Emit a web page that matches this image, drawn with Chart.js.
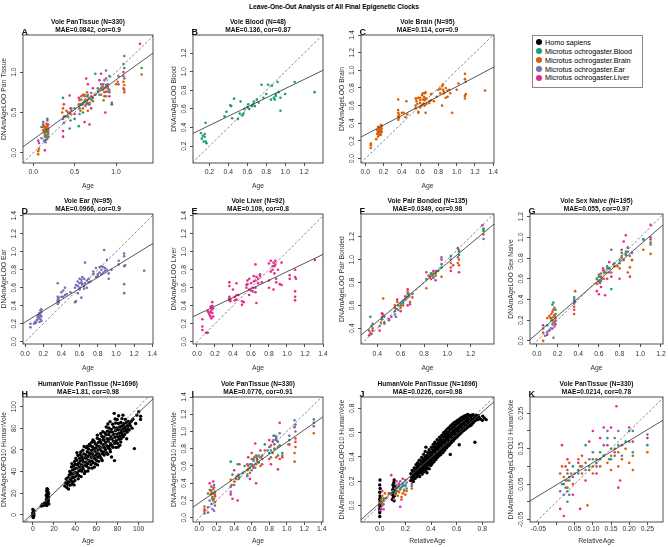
<!DOCTYPE html>
<html>
<head>
<meta charset="utf-8">
<title>Leave-One-Out Analysis of All Final Epigenetic Clocks</title>
<script src="https://cdn.jsdelivr.net/npm/chart.js@4.4.1/dist/chart.umd.min.js"></script>
<style>
  html, body { margin: 0; padding: 0; background: #fff; }
  body { width: 668px; height: 547px; position: relative; overflow: hidden; font-family: "Liberation Sans", Arial, sans-serif; }
  canvas { position: absolute; }
  #mainTitle { position: absolute; left: 0; width: 668px; top: 1.5px; text-align: center; font-weight: bold; font-size: 6.6px; line-height: 9px; color: #000; opacity: 0.999; }
  #legend { position: absolute; left: 532px; top: 35px; width: 111px; height: 53px; border: 1px solid #888; box-sizing: border-box; opacity: 0.999; }
  .lg { position: absolute; left: 0; font-size: 7.2px; line-height: 9px; white-space: nowrap; color: #000; }
  .lg i { position: absolute; left: 2.5px; top: 1.3px; width: 6.4px; height: 6.4px; border-radius: 50%; }
  .lg span { position: absolute; left: 12px; color: #000; }
</style>
</head>
<body>
<div id="mainTitle">Leave-One-Out Analysis of All Final Epigenetic Clocks</div>
<div id="legend"></div>
<script>
// colours of the five groups
const colHuman = '#000000', colBlood = '#1B9E77', colBrain = '#D95F02', colEar = '#7570B3', colLiver = '#E7298A';
const legendLabels = ['Homo sapiens', 'Microtus ochrogaster.Blood', 'Microtus ochrogaster.Brain', 'Microtus ochrogaster.Ear', 'Microtus ochrogaster.Liver'];
const legendColors = [colHuman, colBlood, colBrain, colEar, colLiver];

// tick values
const ticksA = [0, 0.5, 1.0];
const ticksB = [0.2, 0.4, 0.6, 0.8, 1.0, 1.2];
const ticks14 = [0, 0.2, 0.4, 0.6, 0.8, 1.0, 1.2, 1.4];
const ticksF = [0.4, 0.6, 0.8, 1.0, 1.2];
const ticksG = [0, 0.2, 0.4, 0.6, 0.8, 1.0, 1.2];
const ticksH = [0, 20, 40, 60, 80, 100];
const ticksJ = [0, 0.2, 0.4, 0.6, 0.8];
const ticksK = [-0.05, 0, 0.05, 0.10, 0.15, 0.20, 0.25];
const labelsKx = ['-0.05', '', '0.05', '0.10', '0.15', '0.20', '0.25'];
const labelsKy = ['-0.05', '', '0.05', '', '0.15', '', '0.25'];

// regression lines [intercept, slope]
const fitA = [0.166, 0.739], fitB = [0.323, 0.495], fitC = [0.27, 0.545], fitD = [0.218, 0.622];
const fitE = [0.299, 0.48], fitF = [0.12, 0.85], fitG = [0.07, 0.86], fitH = [1.5, 0.93];
const fitI = [0.172, 0.705], fitJ = [0.0205, 0.935], fitK = [0.048, 0.623];

// A: Vole PanTissue LOO
const aBlood = [[0.1,0.32],[0.12,0.38],[0.14,0.2],[0.15,0.16],[0.16,0.28],[0.17,0.4],[0.18,0.25],[0.36,0.68],[0.38,0.45],[0.44,0.3],[0.46,0.52],[0.5,0.42],[0.55,0.33],[0.56,0.55],[0.58,0.6],[0.6,0.5],[0.62,0.64],[0.65,0.7],[0.67,0.6],[0.7,0.66],[0.75,0.98],[0.78,0.76],[0.82,0.8],[0.86,0.7],[0.88,0.84],[0.9,0.76],[0.92,0.95],[0.95,0.6],[1.1,1.05],[1.31,1.05]];
const aBrain = [[0.06,-0.02],[0.06,0.02],[0.07,0.05],[0.12,0.28],[0.12,0.32],[0.13,0.25],[0.13,0.33],[0.14,0.3],[0.15,0.27],[0.15,0.32],[0.16,0.3],[0.16,0.22],[0.17,0.33],[0.17,0.26],[0.18,0.3],[0.18,0.2],[0.35,0.5],[0.36,0.55],[0.37,0.45],[0.4,0.52],[0.42,0.45],[0.45,0.48],[0.46,0.55],[0.55,0.58],[0.56,0.65],[0.57,0.52],[0.58,0.7],[0.6,0.62],[0.6,0.55],[0.62,0.72],[0.63,0.66],[0.64,0.6],[0.65,0.75],[0.66,0.52],[0.67,0.68],[0.68,0.62],[0.7,0.7],[0.72,0.64],[0.75,0.72],[0.8,0.78],[0.82,0.72],[0.84,0.82],[0.85,0.65],[0.86,0.8],[0.88,0.76],[0.88,0.7],[0.9,0.82],[0.92,0.75],[0.95,0.6],[1.0,0.85],[1.02,0.88],[1.09,0.95],[1.09,0.88],[1.09,0.8],[1.1,0.75],[1.1,0.84],[1.31,0.97]];
const aEar = [[0.07,0.12],[0.1,0.18],[0.13,0.15],[0.14,0.22],[0.15,0.13],[0.15,0.25],[0.16,0.2],[0.17,0.28],[0.17,0.17],[0.18,0.23],[0.36,0.42],[0.37,0.37],[0.4,0.45],[0.43,0.5],[0.45,0.4],[0.5,0.55],[0.55,0.6],[0.56,0.48],[0.58,0.66],[0.6,0.6],[0.62,0.7],[0.63,0.58],[0.65,0.65],[0.66,0.72],[0.68,0.6],[0.7,0.74],[0.72,0.68],[0.78,0.8],[0.8,0.72],[0.82,0.85],[0.84,0.78],[0.86,0.9],[0.88,1.02],[0.88,0.82],[0.9,0.85],[0.92,0.78],[1.03,0.95],[1.09,1.1],[1.1,1.2],[1.1,0.92]];
const aLiver = [[0.06,0.15],[0.12,0.35],[0.14,0.03],[0.15,0.3],[0.16,0.36],[0.17,0.42],[0.18,0.35],[0.18,0.28],[0.36,0.2],[0.36,0.27],[0.37,0.6],[0.42,0.5],[0.44,0.71],[0.45,0.55],[0.5,0.48],[0.55,0.68],[0.57,0.6],[0.6,0.72],[0.62,0.38],[0.64,0.92],[0.65,0.62],[0.66,0.85],[0.68,0.35],[0.7,0.55],[0.72,0.8],[0.8,0.9],[0.82,0.98],[0.84,0.85],[0.86,0.75],[0.87,0.5],[0.88,0.92],[0.9,0.8],[0.92,0.7],[0.95,0.62],[1.03,0.85],[1.09,1.0],[1.1,0.78],[1.29,1.35]];

// B: Vole Blood
const bBlood = [[0.11,0.34],[0.12,0.28],[0.13,0.31],[0.14,0.25],[0.15,0.33],[0.15,0.3],[0.16,0.45],[0.16,0.25],[0.17,0.23],[0.36,0.52],[0.38,0.57],[0.42,0.64],[0.43,0.63],[0.44,0.5],[0.46,0.71],[0.5,0.49],[0.52,0.55],[0.53,0.68],[0.55,0.53],[0.56,0.55],[0.57,0.6],[0.6,0.62],[0.61,0.65],[0.62,0.6],[0.65,0.63],[0.66,0.65],[0.67,0.68],[0.68,0.63],[0.7,0.7],[0.72,0.67],[0.75,0.86],[0.77,0.72],[0.8,0.76],[0.82,0.86],[0.85,0.7],[0.86,0.85],[0.88,0.72],[0.89,0.7],[0.9,0.76],[0.9,0.74],[0.92,0.89],[0.93,0.78],[0.95,0.72],[0.95,0.58],[1.0,0.76],[1.1,0.89],[1.31,0.78]];

// C: Vole Brain
const cBrain = [[0.06,0.12],[0.06,0.15],[0.06,0.17],[0.12,0.22],[0.13,0.32],[0.13,0.28],[0.14,0.25],[0.14,0.3],[0.14,0.36],[0.15,0.27],[0.15,0.3],[0.15,0.33],[0.16,0.29],[0.16,0.31],[0.16,0.35],[0.17,0.27],[0.17,0.32],[0.17,0.38],[0.18,0.3],[0.18,0.34],[0.18,0.37],[0.36,0.67],[0.36,0.52],[0.36,0.48],[0.36,0.55],[0.36,0.44],[0.37,0.5],[0.37,0.46],[0.4,0.52],[0.42,0.52],[0.44,0.47],[0.45,0.65],[0.46,0.5],[0.55,0.57],[0.55,0.6],[0.55,0.68],[0.56,0.65],[0.56,0.68],[0.57,0.62],[0.58,0.69],[0.58,0.53],[0.58,0.52],[0.6,0.69],[0.6,0.66],[0.6,0.63],[0.6,0.58],[0.62,0.72],[0.62,0.6],[0.63,0.74],[0.63,0.67],[0.64,0.7],[0.64,0.62],[0.65,0.66],[0.65,0.74],[0.65,0.69],[0.65,0.6],[0.66,0.52],[0.66,0.75],[0.67,0.68],[0.67,0.62],[0.7,0.65],[0.7,0.63],[0.72,0.73],[0.72,0.66],[0.75,0.65],[0.78,0.7],[0.8,0.78],[0.82,0.79],[0.82,0.74],[0.84,0.82],[0.84,0.6],[0.85,0.78],[0.85,0.84],[0.86,0.76],[0.86,0.74],[0.88,0.8],[0.88,0.69],[0.9,0.77],[0.9,0.7],[0.92,0.78],[0.93,0.74],[0.95,0.52],[1.0,0.78],[1.02,0.85],[1.09,0.96],[1.09,0.9],[1.09,0.71],[1.09,0.68],[1.1,0.87],[1.1,0.73],[1.31,0.77]];

// D: Vole Ear
const dEar = [[0.06,0.2],[0.06,0.16],[0.1,0.2],[0.11,0.22],[0.12,0.21],[0.13,0.24],[0.14,0.27],[0.15,0.3],[0.15,0.26],[0.16,0.32],[0.16,0.28],[0.17,0.35],[0.17,0.3],[0.17,0.25],[0.18,0.33],[0.18,0.28],[0.18,0.23],[0.16,0.22],[0.14,0.29],[0.18,0.36],[0.36,0.65],[0.36,0.5],[0.36,0.47],[0.36,0.45],[0.36,0.42],[0.37,0.44],[0.37,0.46],[0.37,0.49],[0.4,0.55],[0.4,0.5],[0.42,0.57],[0.42,0.5],[0.44,0.6],[0.44,0.52],[0.46,0.53],[0.5,0.55],[0.55,0.44],[0.55,0.6],[0.56,0.45],[0.56,0.63],[0.58,0.67],[0.58,0.62],[0.58,0.54],[0.6,0.7],[0.6,0.65],[0.6,0.6],[0.6,0.58],[0.62,0.69],[0.62,0.66],[0.62,0.49],[0.63,0.72],[0.63,0.64],[0.65,0.7],[0.65,0.62],[0.65,0.59],[0.66,0.88],[0.66,0.65],[0.68,0.68],[0.68,0.6],[0.7,0.66],[0.7,0.7],[0.72,0.67],[0.75,0.75],[0.75,0.78],[0.78,0.82],[0.78,0.72],[0.8,0.73],[0.8,0.75],[0.82,0.83],[0.82,0.77],[0.84,0.84],[0.84,0.75],[0.84,0.8],[0.86,0.77],[0.86,0.83],[0.87,1.02],[0.88,0.82],[0.88,0.79],[0.9,0.91],[0.9,0.8],[0.92,0.7],[0.92,0.76],[0.95,0.8],[1.03,0.9],[1.03,0.86],[1.09,0.98],[1.09,0.95],[1.09,0.84],[1.09,0.64],[1.09,0.54],[1.1,0.85],[1.31,0.79]];

// E: Vole Liver
const eLiver = [[0.06,0.25],[0.06,0.17],[0.06,0.13],[0.1,0.1],[0.12,0.34],[0.13,0.32],[0.14,0.3],[0.15,0.33],[0.15,0.28],[0.16,0.38],[0.16,0.26],[0.17,0.44],[0.17,0.4],[0.17,0.32],[0.18,0.37],[0.18,0.28],[0.16,0.35],[0.15,0.39],[0.12,0.1],[0.36,0.66],[0.36,0.62],[0.36,0.5],[0.36,0.48],[0.36,0.46],[0.37,0.47],[0.37,0.45],[0.4,0.58],[0.42,0.5],[0.42,0.46],[0.44,0.65],[0.44,0.47],[0.44,0.52],[0.46,0.52],[0.5,0.41],[0.5,0.45],[0.52,0.44],[0.55,0.63],[0.55,0.6],[0.56,0.68],[0.56,0.64],[0.58,0.7],[0.58,0.58],[0.58,0.52],[0.6,0.65],[0.6,0.57],[0.62,0.6],[0.62,0.56],[0.63,0.73],[0.63,0.67],[0.65,0.86],[0.65,0.6],[0.65,0.55],[0.65,0.68],[0.66,0.72],[0.66,0.43],[0.68,0.65],[0.68,0.7],[0.7,0.75],[0.7,0.73],[0.72,0.66],[0.8,0.87],[0.8,0.68],[0.8,0.6],[0.82,0.9],[0.82,0.78],[0.84,0.84],[0.84,0.8],[0.85,0.58],[0.85,0.88],[0.86,0.84],[0.86,0.76],[0.87,0.9],[0.87,0.86],[0.88,0.7],[0.88,0.66],[0.9,0.8],[0.92,0.64],[0.94,0.88],[0.94,0.63],[1.03,0.74],[1.03,0.7],[1.09,0.8],[1.09,0.72],[1.09,0.56],[1.09,0.5],[1.09,0.46],[1.1,0.7],[1.31,0.91]];

// F: Vole Pair Bonded
const fBlood = [[0.34,0.5],[0.35,0.42],[0.44,0.48],[0.46,0.45],[0.55,0.55],[0.58,0.6],[0.6,0.62],[0.62,0.64],[0.66,0.7],[0.67,0.68],[0.86,0.88],[0.88,0.85],[0.9,0.88],[0.92,0.9],[0.95,0.93],[1.03,1.03],[1.1,1.07],[1.1,1.04],[1.31,1.27],[1.31,1.25]];
const fBrain = [[0.34,0.36],[0.36,0.4],[0.43,0.45],[0.44,0.5],[0.45,0.66],[0.46,0.44],[0.55,0.6],[0.56,0.57],[0.57,0.63],[0.6,0.58],[0.62,0.6],[0.64,0.66],[0.66,0.72],[0.67,0.7],[0.68,0.63],[0.7,0.67],[0.82,0.75],[0.84,0.86],[0.86,0.83],[0.88,0.88],[0.9,0.86],[0.92,0.9],[0.95,0.85],[1.03,0.97],[1.03,0.93],[1.09,0.97],[1.1,0.95],[1.1,1.0],[1.31,1.22],[1.31,1.26]];
const fEar = [[0.33,0.38],[0.35,0.35],[0.36,0.44],[0.42,0.42],[0.44,0.48],[0.46,0.5],[0.5,0.48],[0.55,0.52],[0.56,0.5],[0.58,0.56],[0.6,0.6],[0.62,0.62],[0.64,0.65],[0.66,0.67],[0.7,0.7],[0.82,0.83],[0.86,0.87],[0.88,0.84],[0.9,0.9],[0.95,1.02],[0.95,0.96],[1.03,1.0],[1.09,1.02],[1.1,1.08],[1.31,1.18]];
const fLiver = [[0.33,0.34],[0.36,0.38],[0.42,0.38],[0.44,0.53],[0.45,0.52],[0.5,0.47],[0.52,0.5],[0.55,0.58],[0.57,0.65],[0.6,0.55],[0.62,0.62],[0.64,0.68],[0.66,0.74],[0.66,0.6],[0.68,0.61],[0.82,0.89],[0.85,0.85],[0.88,0.9],[0.9,0.82],[0.95,1.0],[1.03,0.9],[1.05,0.95],[1.09,1.1],[1.1,0.89],[1.3,1.3]];

// G: Vole Sex Naive
const gBlood = [[0.1,0.15],[0.14,0.2],[0.15,0.35],[0.16,0.37],[0.17,0.25],[0.18,0.3],[0.36,0.38],[0.36,0.42],[0.58,0.6],[0.6,0.62],[0.62,0.58],[0.65,0.66],[0.68,0.72],[0.7,0.7],[0.72,0.5],[0.75,0.75],[0.8,0.78],[0.82,0.85],[0.86,0.83],[0.88,0.86],[1.03,0.98],[1.1,0.95]];
const gBrain = [[0.06,0.0],[0.06,0.08],[0.1,0.22],[0.12,0.24],[0.13,0.22],[0.14,0.26],[0.15,0.2],[0.15,0.28],[0.16,0.23],[0.17,0.32],[0.17,0.18],[0.18,0.26],[0.18,0.22],[0.36,0.26],[0.36,0.33],[0.37,0.48],[0.58,0.55],[0.6,0.64],[0.61,0.58],[0.62,0.62],[0.64,0.68],[0.65,0.6],[0.67,0.66],[0.7,0.7],[0.72,0.66],[0.75,0.72],[0.78,0.72],[0.8,0.7],[0.82,0.82],[0.84,0.78],[0.86,0.84],[0.88,0.66],[0.9,0.71],[0.92,0.78],[1.03,0.88],[1.1,0.84],[1.1,0.93]];
const gEar = [[0.06,0.12],[0.08,0.05],[0.1,0.08],[0.12,0.1],[0.14,0.12],[0.15,0.16],[0.16,0.18],[0.17,0.14],[0.18,0.2],[0.16,0.03],[0.36,0.36],[0.36,0.4],[0.58,0.6],[0.6,0.57],[0.62,0.65],[0.63,0.6],[0.65,0.68],[0.68,0.7],[0.7,0.66],[0.72,0.88],[0.74,0.74],[0.8,0.75],[0.82,0.8],[0.86,0.86],[0.88,0.9],[0.9,0.82],[0.92,0.85],[1.03,0.98],[1.1,1.0]];
const gLiver = [[0.06,0.15],[0.1,0.06],[0.12,0.1],[0.14,0.22],[0.15,0.12],[0.16,0.3],[0.17,0.24],[0.18,0.16],[0.36,0.3],[0.37,0.38],[0.58,0.48],[0.6,0.45],[0.61,0.56],[0.62,0.52],[0.64,0.7],[0.66,0.44],[0.68,0.6],[0.7,0.76],[0.72,0.62],[0.8,0.6],[0.82,0.88],[0.84,0.96],[0.86,1.02],[0.88,0.9],[0.9,0.62],[0.92,0.78],[1.1,1.12],[1.1,0.98]];

// H: HumanVole PanTissue, age in years
const hHuman = [[0,-1.5],[0,0.5],[0,2],[0.5,-0.5],[1,1],[1,3.5],[0,5],[0.5,-2.5],[1,-1],[8,8],[9,9.5],[10,8.5],[11,11],
[12.5,10.5],[12.8,14],[13,8.5],[13,12],[13.2,16.5],[13.3,19],[13.1,22],[13.6,9.8],[13.7,13.5],[13.8,15.8],[13.9,18],[14,20.5],[14,23.5],[14.1,11.2],[14.3,14.6],[14.4,17.2],[14.2,21.4],[14.6,12.8],[14.8,16],[15,19.5],[15.1,10],[12.7,17.8],[13.4,24],
[30.2,26.5],[30.8,29.4],[31.5,33.1],[32.1,25.2],[32.6,30.8],[33.0,28.1],[33.4,34.6],[33.7,23.8],[34.1,30.2],[34.5,36.9],[34.9,40.1],[35.2,27.4],[35.6,32.8],[35.8,38.7],[36.3,31.1],[36.5,44.2],[36.8,36.4],[37.1,28.3],[37.4,34.2],[37.6,41.3],[38.0,30.4],[38.3,37.9],[38.6,45.1],[38.9,34.6],[39.2,42.2],[39.5,49.3],[39.8,31.7],[40.1,39.2],[40.3,46.8],[40.6,52.1],[40.9,35.8],[41.2,43.1],[41.5,50.4],[41.7,57.3],[42.0,38.2],[42.3,46.3],[42.6,54.8],[42.9,33.2],[43.2,40.5],[43.5,47.9],[43.8,36.1],[44.0,44.3],[44.3,52.2],[44.7,41.8],[45.0,49.6],[45.3,58.1],[45.6,35.3],[45.9,46.2],[46.2,40.3],[46.4,53.7],[46.8,44.1],[47.1,51.2],[47.3,59.6],[47.7,42.4],[48.0,48.8],[48.2,56.3],[48.5,63.1],[48.8,38.2],[49.1,45.7],[49.4,52.8],[49.7,40.1],[50.0,48.3],[50.2,55.4],[50.5,61.9],[50.8,44.9],[51.1,51.6],[51.4,58.2],[51.8,47.2],[52.0,40.4],[52.3,54.1],[52.6,60.8],[52.9,43.3],[53.2,50.2],[53.4,57.1],[53.7,65.2],[54.0,48.9],[54.3,55.8],[54.6,63.7],[54.9,46.3],[55.2,52.9],[55.4,59.7],[55.7,67.1],[56.0,49.8],[56.3,56.6],[56.5,62.9],[56.8,69.2],[57.1,48.1],[57.4,54.7],[57.6,61.3],[57.9,67.8],[58.2,44.2],[58.4,52.3],[58.7,58.9],[59.0,65.6],[59.3,47.2],[59.5,55.1],[59.8,61.7],[60.1,50.3],[60.3,57.2],[60.6,64.1],[60.9,70.8],[61.2,46.1],[61.4,53.2],[61.7,59.8],[62.0,66.9],[62.3,49.4],[62.5,56.3],[62.8,63.1],[63.1,69.7],[63.4,54.2],[63.6,60.8],[63.9,67.6],[64.2,75.1],[64.5,52.1],[64.7,58.9],[65.0,65.8],[65.3,72.6],[65.6,50.2],[65.8,56.4],[66.1,62.7],[66.4,69.3],[66.7,58.1],[66.9,64.9],[67.2,71.8],[67.5,55.3],[67.8,61.9],[68.0,68.6],[68.3,75.7],[68.6,60.1],[68.9,66.8],[69.1,73.9],[69.4,81.2],[69.7,57.4],[70.0,63.8],[70.2,70.4],[70.5,77.3],[70.8,55.9],[71.1,61.7],[71.3,67.9],[71.6,74.2],[71.9,80.3],[72.2,63.2],[72.4,69.8],[72.7,76.6],[73.0,86.1],[73.3,58.3],[73.5,65.7],[73.8,72.1],[74.1,79.0],[74.4,53.4],[74.6,64.3],[74.9,70.2],[75.2,76.4],[75.5,83.7],[75.8,62.4],[76.0,68.1],[76.3,74.3],[76.6,80.9],[76.9,93.8],[77.2,50.1],[77.4,66.0],[77.7,71.7],[78.0,77.8],[78.3,84.9],[78.6,62.3],[78.8,68.4],[79.1,74.6],[79.4,80.2],[79.7,88.1],[80.0,66.1],[80.3,72.2],[80.6,78.5],[80.9,84.4],[81.1,91.6],[81.4,69.8],[81.7,75.3],[82.0,81.1],[82.3,64.2],[82.6,72.6],[82.9,78.4],[83.2,85.3],[83.5,70.4],[83.8,76.1],[84.0,82.2],[84.3,88.9],[84.6,73.7],[84.9,79.8],[85.2,92.1],[85.5,72.1],[85.8,84.2],[86.1,77.3],[86.4,81.9],[86.8,74.2],[87.1,80.4],[87.5,88.2],[87.9,78.1],[88.3,85.1],[88.7,70.3],[89.1,76.4],[89.5,82.3],[90.0,79.6],[90.4,86.2],[91.0,78.3],[91.5,84.1],[92.2,82.2],[93.0,86.4],[93.8,80.1],[94.6,88.3],[96.0,61.2],[97.2,84.4],[98.3,92.1],[100.1,95.3],[101.8,88.2],[101.9,91.1],
[36.9,47.3],[39.0,27.6],[44.8,55.6],[51.6,63.4],[55.9,43.1],[61.0,73.6],[66.2,76.8],[70.9,83.9],[72.9,60.4],[77.8,88.6],[80.7,62.7],[83.1,67.3]];

// I: Vole PanTissue, HumanVole clock
const iBlood = [[0.1,0.28],[0.13,0.32],[0.15,0.22],[0.17,0.38],[0.18,0.3],[0.36,0.65],[0.38,0.5],[0.44,0.62],[0.46,0.47],[0.52,0.6],[0.55,0.5],[0.58,0.58],[0.6,0.62],[0.62,0.68],[0.65,0.72],[0.68,0.64],[0.7,0.7],[0.75,0.85],[0.8,0.75],[0.82,0.78],[0.85,0.95],[0.86,0.8],[0.88,0.9],[0.9,0.72],[0.92,0.84],[0.95,0.75],[1.03,0.9],[1.1,1.08],[1.31,1.1]];
const iBrain = [[0.06,0.1],[0.06,0.13],[0.12,0.32],[0.13,0.27],[0.14,0.3],[0.15,0.24],[0.16,0.28],[0.16,0.33],[0.17,0.22],[0.18,0.27],[0.18,0.18],[0.36,0.44],[0.37,0.38],[0.4,0.42],[0.42,0.45],[0.45,0.5],[0.55,0.55],[0.56,0.6],[0.58,0.52],[0.6,0.68],[0.62,0.6],[0.63,0.7],[0.65,0.62],[0.66,0.66],[0.68,0.72],[0.7,0.6],[0.72,0.68],[0.75,0.78],[0.8,0.68],[0.82,0.84],[0.84,0.75],[0.86,0.8],[0.88,0.7],[0.9,0.82],[0.92,0.68],[0.95,0.72],[1.02,0.85],[1.09,0.75],[1.09,0.65],[1.1,0.82],[1.1,0.92],[1.31,0.98]];
const iEar = [[0.06,0.05],[0.1,0.12],[0.12,0.2],[0.14,0.16],[0.15,0.1],[0.16,0.2],[0.17,0.08],[0.18,0.14],[0.36,0.3],[0.36,0.36],[0.4,0.38],[0.43,0.48],[0.45,0.45],[0.5,0.52],[0.55,0.48],[0.56,0.56],[0.58,0.62],[0.6,0.55],[0.62,0.66],[0.64,0.58],[0.66,0.7],[0.68,0.64],[0.72,0.72],[0.78,0.78],[0.8,0.82],[0.82,0.7],[0.85,0.9],[0.86,0.85],[0.88,0.94],[0.9,0.88],[0.92,0.98],[1.03,0.95],[1.09,1.13],[1.1,1.0],[1.31,1.14]];
const iLiver = [[0.06,0.08],[0.1,0.06],[0.12,0.4],[0.14,0.36],[0.15,0.28],[0.16,0.42],[0.17,0.35],[0.18,0.25],[0.36,0.27],[0.38,0.22],[0.4,0.55],[0.44,0.2],[0.46,0.62],[0.55,0.62],[0.56,0.7],[0.58,0.45],[0.6,0.75],[0.62,0.58],[0.64,0.86],[0.65,0.4],[0.66,0.68],[0.7,0.78],[0.72,0.62],[0.8,0.9],[0.82,0.62],[0.84,0.88],[0.86,0.95],[0.88,0.92],[0.9,0.56],[0.92,1.1],[0.95,0.7],[1.03,0.85],[1.09,1.05],[1.1,0.88],[1.31,1.06]];

// J: HumanVole PanTissue, relative age
const jHuman = [[0,-0.09],[0,-0.06],[0,-0.03],[0.002,-0.01],[0,0.01],[0.003,0.03],[0,0.05],[0.002,0.08],[0,0.11],[0.003,0.14],[0,0.17],[0.002,0.21],[0.004,0.0],[0.001,-0.045],[0.004,0.06],
[0.098,0.05],[0.1,0.09],[0.101,0.13],[0.103,0.17],[0.106,0.07],[0.108,0.11],[0.109,0.15],[0.11,0.19],[0.112,0.04],[0.113,0.21],[0.115,0.08],[0.117,0.12],[0.118,0.16],[0.12,0.1],[0.122,0.14],
[0.241,0.205],[0.243,0.262],[0.248,0.231],[0.253,0.289],[0.255,0.214],[0.259,0.248],[0.262,0.198],[0.264,0.276],[0.267,0.239],[0.269,0.31],[0.272,0.265],[0.276,0.222],[0.278,0.297],[0.281,0.258],[0.283,0.335],[0.285,0.281],[0.289,0.236],[0.29,0.312],[0.293,0.27],[0.295,0.351],[0.298,0.295],[0.3,0.249],[0.302,0.327],[0.305,0.268],[0.307,0.303],[0.308,0.372],[0.311,0.239],[0.313,0.288],[0.316,0.341],[0.318,0.31],[0.321,0.274],[0.322,0.366],[0.325,0.302],[0.327,0.395],[0.33,0.258],[0.331,0.329],[0.334,0.355],[0.336,0.287],[0.339,0.314],[0.34,0.381],[0.342,0.421],[0.343,0.276],[0.345,0.342],[0.348,0.302],[0.35,0.366],[0.352,0.328],[0.353,0.399],[0.355,0.445],[0.357,0.289],[0.359,0.355],[0.361,0.381],[0.363,0.318],[0.366,0.344],[0.367,0.412],[0.368,0.27],[0.37,0.305],[0.372,0.371],[0.375,0.398],[0.376,0.434],[0.379,0.331],[0.381,0.36],[0.384,0.388],[0.385,0.459],[0.386,0.302],[0.388,0.344],[0.39,0.418],[0.393,0.375],[0.395,0.44],[0.397,0.407],[0.399,0.33],[0.402,0.362],[0.403,0.479],[0.405,0.431],[0.406,0.393],[0.409,0.345],[0.411,0.421],[0.413,0.46],[0.415,0.378],[0.417,0.502],[0.42,0.408],[0.421,0.445],[0.423,0.36],[0.424,0.438],[0.426,0.482],[0.429,0.395],[0.43,0.52],[0.433,0.425],[0.435,0.466],[0.438,0.378],[0.439,0.45],[0.44,0.503],[0.442,0.412],[0.444,0.485],[0.447,0.438],[0.448,0.541],[0.45,0.395],[0.451,0.467],[0.453,0.51],[0.456,0.425],[0.458,0.492],[0.46,0.452],[0.461,0.53],[0.463,0.409],[0.465,0.478],[0.467,0.561],[0.469,0.44],[0.47,0.506],[0.474,0.466],[0.475,0.545],[0.476,0.42],[0.478,0.493],[0.48,0.52],[0.483,0.452],[0.485,0.578],[0.487,0.48],[0.488,0.535],[0.492,0.507],[0.493,0.436],[0.494,0.562],[0.496,0.468],[0.498,0.598],[0.501,0.495],[0.503,0.54],[0.505,0.522],[0.506,0.455],[0.508,0.578],[0.51,0.483],[0.512,0.612],[0.514,0.51],[0.516,0.558],[0.519,0.537],[0.52,0.472],[0.521,0.592],[0.523,0.498],[0.525,0.628],[0.528,0.525],[0.53,0.57],[0.532,0.552],[0.533,0.488],[0.535,0.605],[0.537,0.513],[0.539,0.64],[0.541,0.54],[0.543,0.582],[0.546,0.567],[0.547,0.502],[0.548,0.62],[0.55,0.528],[0.552,0.655],[0.555,0.555],[0.557,0.596],[0.559,0.582],[0.56,0.519],[0.562,0.634],[0.564,0.543],[0.566,0.668],[0.568,0.57],[0.57,0.608],[0.573,0.597],[0.574,0.533],[0.575,0.646],[0.577,0.557],[0.579,0.681],[0.582,0.585],[0.584,0.621],[0.586,0.61],[0.587,0.548],[0.589,0.66],[0.591,0.572],[0.593,0.69],[0.595,0.6],[0.597,0.634],[0.6,0.624],[0.601,0.562],[0.602,0.672],[0.604,0.587],[0.606,0.7],[0.609,0.614],[0.611,0.646],[0.613,0.636],[0.614,0.578],[0.616,0.683],[0.618,0.601],[0.62,0.71],[0.622,0.627],[0.624,0.658],[0.627,0.65],[0.628,0.59],[0.63,0.695],[0.631,0.615],[0.633,0.72],[0.636,0.64],[0.638,0.669],[0.64,0.661],[0.641,0.604],[0.643,0.705],[0.645,0.628],[0.647,0.728],[0.65,0.652],[0.652,0.68],[0.654,0.672],[0.655,0.617],[0.657,0.714],[0.659,0.64],[0.661,0.736],[0.663,0.663],[0.665,0.69],[0.668,0.682],[0.669,0.628],[0.67,0.722],[0.672,0.651],[0.674,0.742],[0.677,0.673],[0.679,0.699],[0.681,0.69],[0.682,0.64],[0.684,0.73],[0.686,0.662],[0.688,0.748],[0.69,0.682],[0.692,0.708],[0.695,0.7],[0.697,0.652],[0.7,0.672],[0.702,0.738],[0.706,0.69],[0.709,0.716],[0.712,0.66],[0.714,0.742],[0.718,0.7],[0.721,0.724],[0.725,0.676],[0.728,0.746],[0.732,0.71],[0.735,0.688],[0.74,0.728],[0.742,0.52],[0.748,0.7],[0.751,0.742],[0.756,0.722],[0.764,0.706],[0.767,0.738],[0.775,0.724],[0.786,0.71],[0.8,0.7],[0.803,0.735],[0.815,0.72],[0.83,0.706],[0.36,0.48],[0.55,0.42],[0.62,0.5]];
const jBlood = [[0.01,0.03],[0.03,0.06],[0.1,0.12],[0.12,0.1],[0.14,0.15],[0.16,0.14],[0.18,0.16],[0.2,0.17],[0.21,0.14],[0.25,0.16]];
const jBrain = [[0.0,0.02],[0.01,0.05],[0.02,0.0],[0.02,0.08],[0.03,0.04],[0.04,0.1],[0.05,0.06],[0.07,0.1],[0.12,0.09],[0.13,0.12],[0.14,0.08],[0.15,0.11],[0.16,0.13],[0.17,0.07],[0.18,0.1],[0.19,0.12],[0.2,0.09],[0.21,0.12],[0.25,0.14]];
const jEar = [[0.01,-0.02],[0.02,0.02],[0.03,0.01],[0.09,0.1],[0.12,0.14],[0.13,0.17],[0.14,0.12],[0.15,0.16],[0.16,0.2],[0.17,0.15],[0.18,0.18],[0.19,0.13],[0.2,0.16],[0.21,0.19]];
const jLiver = [[0.0,-0.04],[0.02,0.12],[0.03,-0.03],[0.08,0.1],[0.09,0.25],[0.11,0.05],[0.13,0.2],[0.15,0.18],[0.16,-0.01],[0.17,0.05],[0.18,0.22],[0.2,0.21],[0.25,0.18]];

// K: Vole PanTissue, relative age
const kBlood = [[0.02,0.05],[0.03,0.03],[0.03,0.08],[0.035,0.06],[0.045,0.1],[0.06,0.09],[0.08,0.16],[0.09,0.1],[0.1,0.12],[0.11,0.11],[0.12,0.14],[0.13,0.13],[0.14,0.18],[0.145,0.12],[0.15,0.15],[0.16,0.13],[0.17,0.16],[0.19,0.17],[0.2,0.2],[0.21,0.14],[0.25,0.16]];
const kBrain = [[0.01,0.08],[0.015,0.1],[0.02,0.07],[0.025,0.06],[0.03,0.09],[0.03,0.04],[0.035,0.07],[0.035,0.11],[0.045,0.05],[0.05,0.08],[0.06,0.12],[0.065,0.1],[0.07,0.08],[0.08,0.11],[0.085,-0.01],[0.09,0.09],[0.1,0.1],[0.1,0.08],[0.11,0.12],[0.12,0.1],[0.13,0.13],[0.14,0.11],[0.15,0.13],[0.15,0.09],[0.16,0.15],[0.17,0.1],[0.17,0.14],[0.18,0.12],[0.19,0.15],[0.2,0.11],[0.21,0.13],[0.21,0.09],[0.25,0.14]];
const kEar = [[0.01,0.03],[0.015,0.05],[0.02,0.02],[0.025,0.04],[0.03,0.0],[0.03,0.06],[0.035,0.02],[0.04,0.08],[0.045,0.07],[0.06,0.08],[0.07,0.1],[0.08,0.09],[0.09,0.12],[0.1,0.14],[0.11,0.1],[0.12,0.12],[0.13,0.16],[0.14,0.2],[0.15,0.12],[0.16,0.18],[0.17,0.2],[0.18,0.13],[0.2,0.17],[0.21,0.2],[0.25,0.19]];
const kLiver = [[0.01,-0.02],[0.015,0.16],[0.02,-0.04],[0.025,0.1],[0.03,0.12],[0.035,0.07],[0.045,0.02],[0.06,0.11],[0.065,-0.02],[0.07,0.13],[0.08,0.06],[0.09,0.17],[0.1,0.2],[0.11,0.08],[0.12,0.18],[0.13,0.21],[0.14,0.16],[0.15,0.21],[0.16,0.14],[0.165,0.27],[0.17,0.04],[0.175,0.06],[0.18,0.16],[0.2,0.21],[0.21,0.17],[0.25,0.18]];

// plot box edges of the grid (px) and per-row offsets of tick labels / axis title below the box
const colEdges = [[23, 154], [193, 324], [361, 495], [530, 664]];
const rowEdges = [[35, 163], [214, 344], [397, 522]];
const rowBelow = [[9, 23], [10, 24], [7.5, 19.5]];

const fmt = (ticks, d) => ticks.map(v => v.toFixed(d));
const vole4 = (bl, br, ea, li) => [[bl, colBlood], [br, colBrain], [ea, colEar], [li, colLiver]];

const panels = [
  { id: 'A', col: 0, row: 0, t1: 'Vole PanTissue (N=330)', t2: 'MAE=0.0842, cor=0.9', ylab: 'DNAmAgeLOO Pan Tissue', xlab: 'Age',
    xr: [-0.124, 1.447], yr: [-0.127, 1.46], xt: ticksA, yt: ticksA, xl: fmt(ticksA, 1), yl: fmt(ticksA, 1), fit: fitA, series: vole4(aBlood, aBrain, aEar, aLiver) },
  { id: 'B', col: 1, row: 0, t1: 'Vole Blood (N=48)', t2: 'MAE=0.136, cor=0.87', ylab: 'DNAmAgeLOO Blood', xlab: 'Age',
    xr: [0.027, 1.399], yr: [0.018, 1.395], xt: ticksB, yt: ticksB, xl: fmt(ticksB, 1), yl: fmt(ticksB, 1), fit: fitB, series: [[bBlood, colBlood]] },
  { id: 'C', col: 2, row: 0, t1: 'Vole Brain (N=95)', t2: 'MAE=0.114, cor=0.9', ylab: 'DNAmAgeLOO Brain', xlab: 'Age',
    xr: [-0.047, 1.408], yr: [-0.05, 1.40], xt: ticks14, yt: ticks14, xl: fmt(ticks14, 1), yl: fmt(ticks14, 1), fit: fitC, series: [[cBrain, colBrain]] },
  { id: 'D', col: 0, row: 1, t1: 'Vole Ear (N=95)', t2: 'MAE=0.0966, cor=0.9', ylab: 'DNAmAgeLOO Ear', xlab: 'Age',
    xr: [-0.022, 1.407], yr: [-0.025, 1.42], xt: ticks14, yt: ticks14, xl: fmt(ticks14, 1), yl: fmt(ticks14, 1), fit: fitD, series: [[dEar, colEar]] },
  { id: 'E', col: 1, row: 1, t1: 'Vole Liver (N=92)', t2: 'MAE=0.109, cor=0.8', ylab: 'DNAmAgeLOO Liver', xlab: 'Age',
    xr: [-0.044, 1.40], yr: [-0.025, 1.42], xt: ticks14, yt: ticks14, xl: fmt(ticks14, 1), yl: fmt(ticks14, 1), fit: fitE, series: [[eLiver, colLiver]] },
  { id: 'F', col: 2, row: 1, t1: 'Vole Pair Bonded (N=135)', t2: 'MAE=0.0349, cor=0.98', ylab: 'DNAmAgeLOO Pair Bonded', xlab: 'Age',
    xr: [0.26, 1.40], yr: [0.263, 1.398], xt: ticksF, yt: ticksF, xl: fmt(ticksF, 1), yl: fmt(ticksF, 1), fit: fitF, series: vole4(fBlood, fBrain, fEar, fLiver) },
  { id: 'G', col: 3, row: 1, t1: 'Vole Sex Naive (N=195)', t2: 'MAE=0.055, cor=0.97', ylab: 'DNAmAgeLOO Sex Naive', xlab: 'Age',
    xr: [-0.067, 1.22], yr: [-0.03, 1.225], xt: ticksG, yt: ticksG, xl: fmt(ticksG, 1), yl: fmt(ticksG, 1), fit: fitG, series: vole4(gBlood, gBrain, gEar, gLiver) },
  { id: 'H', col: 0, row: 2, t1: 'HumanVole PanTissue (N=1696)', t2: 'MAE=1.81, cor=0.98', ylab: 'DNAmAgeLOFO10 HumanVole', xlab: 'Age',
    xr: [-9.3, 113.6], yr: [-6.7, 108.9], xt: ticksH, yt: ticksH, xl: fmt(ticksH, 0), yl: fmt(ticksH, 0), fit: fitH, series: [[hHuman, colHuman]] },
  { id: 'I', col: 1, row: 2, t1: 'Vole PanTissue (N=330)', t2: 'MAE=0.0776, cor=0.91', ylab: 'DNAmAgeLOFO10 HumanVole', xlab: 'Age',
    xr: [-0.071, 1.415], yr: [-0.05, 1.40], xt: ticks14, yt: ticks14, xl: fmt(ticks14, 1), yl: fmt(ticks14, 1), fit: fitI, series: vole4(iBlood, iBrain, iEar, iLiver) },
  { id: 'J', col: 2, row: 2, t1: 'HumanVole PanTissue (N=1696)', t2: 'MAE=0.0226, cor=0.98', ylab: 'DNAmRelativeAgeLOFO10 HumanVole', xlab: 'RelativeAge',
    xr: [-0.146, 0.891], yr: [-0.135, 0.892], xt: ticksJ, yt: ticksJ, xl: fmt(ticksJ, 1), yl: fmt(ticksJ, 1), fit: fitJ,
    series: [...vole4(jBlood, jBrain, jEar, jLiver), [jHuman, colHuman]] },
  { id: 'K', col: 3, row: 2, t1: 'Vole PanTissue (N=330)', t2: 'MAE=0.0214, cor=0.78', ylab: 'DNAmRelativeAgeLOFO10 HumanVole', xlab: 'RelativeAge',
    xr: [-0.073, 0.293], yr: [-0.057, 0.296], xt: ticksK, yt: ticksK, xl: labelsKx, yl: labelsKy, fit: fitK, series: vole4(kBlood, kBrain, kEar, kLiver) }
];

const FONT = '"Liberation Sans", Arial, sans-serif';

function rStyle(p) {
  const [tickGap, labGap] = rowBelow[p.row];
  return {
    id: 'rStyle',
    afterDraw(chart) {
      const ctx = chart.ctx, a = chart.chartArea, xs = chart.scales.x, ys = chart.scales.y;
      ctx.save();
      ctx.strokeStyle = '#3c3c3c';
      ctx.lineWidth = 0.9;
      ctx.strokeRect(a.left, a.top, a.right - a.left, a.bottom - a.top);
      const cx = (a.left + a.right) / 2, cy = (a.top + a.bottom) / 2;
      ctx.fillStyle = '#111';
      ctx.textAlign = 'center';
      ctx.textBaseline = 'middle';
      ctx.font = 'bold 6.6px ' + FONT;
      ctx.fillText(p.t1, cx, a.top - 12.5);
      ctx.fillText(p.t2, cx, a.top - 5.2);
      ctx.font = 'bold 9px ' + FONT;
      ctx.textAlign = 'left';
      ctx.textBaseline = 'alphabetic';
      ctx.fillText(p.id, a.left - 1.5, a.top - 0.3);
      ctx.fillStyle = '#333';
      ctx.font = '6.8px ' + FONT;
      ctx.textAlign = 'center';
      ctx.textBaseline = 'middle';
      p.xt.forEach((v, i) => { if (p.xl[i]) ctx.fillText(p.xl[i], xs.getPixelForValue(v), a.bottom + tickGap); });
      ctx.fillText(p.xlab, cx, a.bottom + labGap);
      p.yt.forEach((v, i) => {
        if (!p.yl[i]) return;
        ctx.save();
        ctx.translate(a.left - 9, ys.getPixelForValue(v));
        ctx.rotate(-Math.PI / 2);
        ctx.fillText(p.yl[i], 0, 0);
        ctx.restore();
      });
      ctx.translate(a.left - 19, cy);
      ctx.rotate(-Math.PI / 2);
      ctx.fillText(p.ylab, 0, 0);
      ctx.restore();
    }
  };
}

function makePanel(p) {
  const [L, R] = colEdges[p.col], [T, B] = rowEdges[p.row];
  const padL = 24, padT = 34, padR = 3, padB = 28;
  const w = R - L + padL + padR, h = B - T + padT + padB;
  const cv = document.createElement('canvas');
  cv.width = w; cv.height = h;
  cv.style.left = (L - padL) + 'px';
  cv.style.top = (T - padT) + 'px';
  cv.style.width = w + 'px';
  cv.style.height = h + 'px';
  document.body.appendChild(cv);

  const datasets = p.series.map(([pts, color]) => ({
    data: pts.map(([x, y]) => ({ x, y })),
    backgroundColor: color,
    borderWidth: 0,
    pointRadius: color === colHuman ? 1.7 : 1.3,
    pointStyle: 'circle',
    order: 1
  }));
  const [a0, b0] = p.fit;
  datasets.push({
    data: [{ x: p.xr[0], y: a0 + b0 * p.xr[0] }, { x: p.xr[1], y: a0 + b0 * p.xr[1] }],
    showLine: true, borderColor: '#444', borderWidth: 0.9, pointRadius: 0, order: 0
  });
  const lo = Math.min(p.xr[0], p.yr[0]), hi = Math.max(p.xr[1], p.yr[1]);
  datasets.push({
    data: [{ x: lo, y: lo }, { x: hi, y: hi }],
    showLine: true, borderColor: '#666', borderWidth: 0.8, borderDash: [2.5, 2], pointRadius: 0, order: 0
  });

  const axis = (range, ticks, fitFn) => ({
    type: 'linear', min: range[0], max: range[1],
    ticks: { display: false, autoSkip: false },
    grid: { drawOnChartArea: false, drawTicks: true, tickLength: 3, color: '#3c3c3c', lineWidth: 0.9 },
    border: { display: false },
    afterBuildTicks: s => { s.ticks = ticks.map(v => ({ value: v })); },
    afterFit: fitFn
  });

  new Chart(cv, {
    type: 'scatter',
    data: { datasets },
    options: {
      responsive: false,
      animation: false,
      devicePixelRatio: 1,
      events: [],
      layout: { padding: { top: padT, right: padR, left: 0, bottom: 0 } },
      plugins: { legend: { display: false }, tooltip: { enabled: false }, title: { display: false } },
      scales: {
        x: axis(p.xr, p.xt, s => { s.height = padB; }),
        y: axis(p.yr, p.yt, s => { s.width = padL; })
      }
    },
    plugins: [rStyle(p)]
  });
}

panels.forEach(makePanel);

// legend box
const lg = document.getElementById('legend');
legendLabels.forEach((name, i) => {
  const row = document.createElement('div');
  row.className = 'lg';
  row.style.top = (1.8 + i * 8.9) + 'px';
  row.innerHTML = '<i style="background:' + legendColors[i] + '"></i><span>' + name + '</span>';
  lg.appendChild(row);
});
</script>
</body>
</html>
